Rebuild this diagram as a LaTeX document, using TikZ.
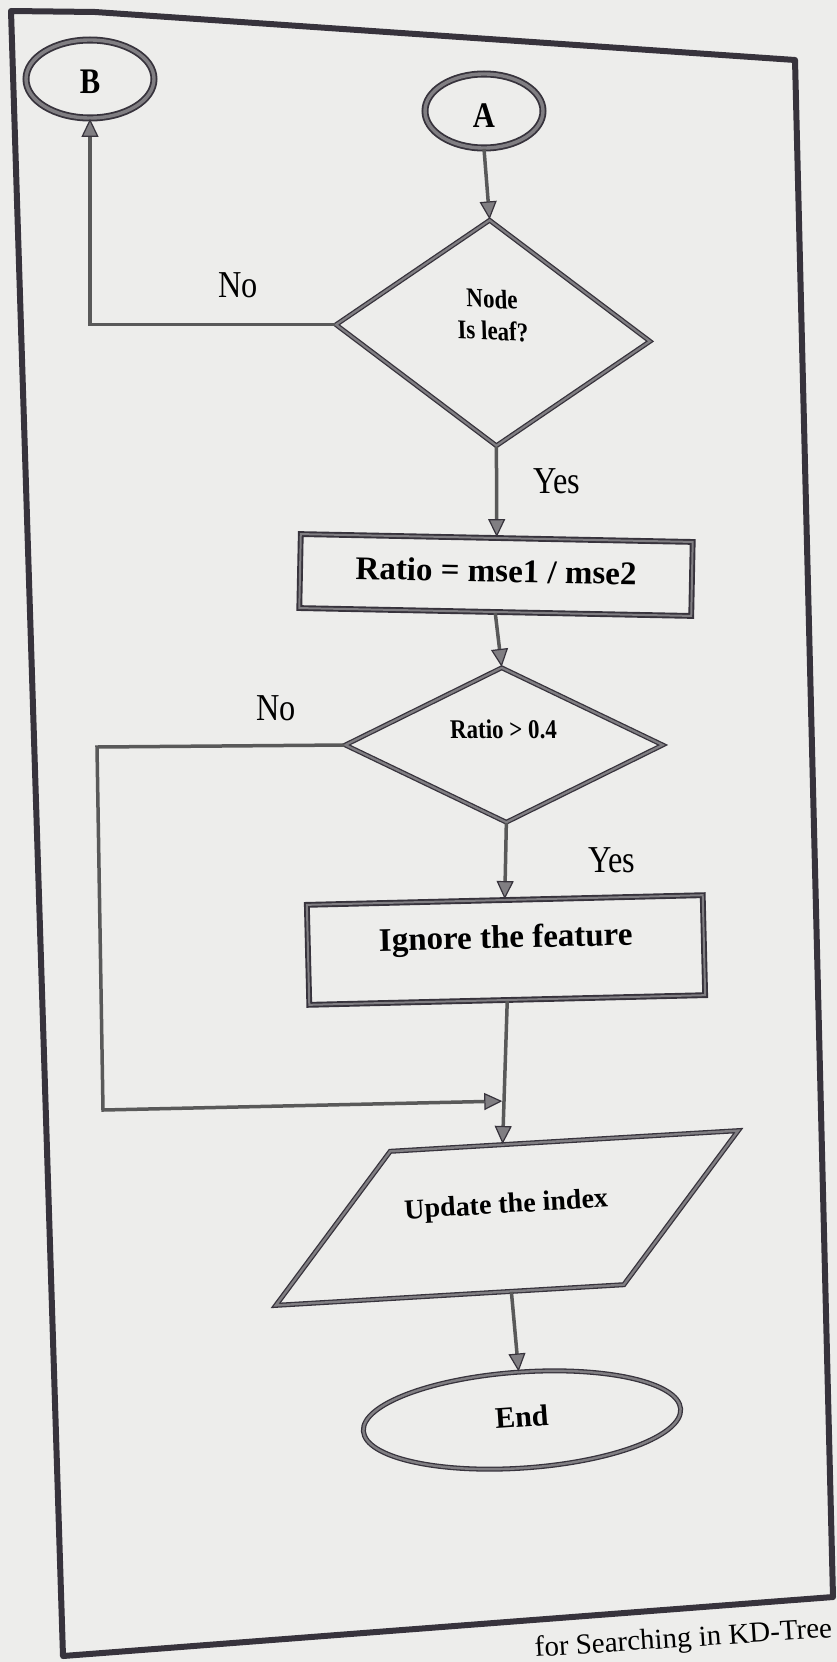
\documentclass[tikz,border=0pt]{standalone}
\usepackage{fontspec}
\setmainfont{Liberation Serif}
\newfontfamily\narrowserif[FakeStretch=0.85]{Liberation Serif}
\usetikzlibrary{shapes.geometric,arrows.meta,calc}

\definecolor{inkline}{RGB}{55,51,60}
\definecolor{inkgray}{RGB}{128,126,130}
\definecolor{paper}{RGB}{237,237,235}

\begin{document}
\begin{tikzpicture}[
    x=1pt, y=-1pt,
    connector/.style={ellipse, draw=inkline, line width=1.8pt, double=inkgray, double distance=3.4pt, inner sep=0pt, font=\narrowserif\fontsize{36}{42}\selectfont\bfseries},
    terminal/.style={ellipse, draw=inkline, line width=1.3pt, double=inkgray, double distance=2.4pt, inner sep=0pt, font=\fontsize{30}{36}\selectfont\bfseries},
    decision/.style={diamond, draw=inkline, line width=1.3pt, double=inkgray, double distance=2.2pt, inner sep=0pt, font=\narrowserif\fontsize{27}{32}\selectfont\bfseries},
    process/.style={rectangle, draw=inkline, line width=1.9pt, double=inkgray, double distance=2pt, inner sep=0pt, font=\fontsize{33}{40}\selectfont\bfseries},
    io/.style={trapezium, trapezium left angle=50, trapezium right angle=130, trapezium stretches body=true, draw=inkline, line width=1.3pt, double=inkgray, double distance=2.4pt, inner xsep=0pt, inner ysep=73.5pt, font=\fontsize{28}{34}\selectfont\bfseries},
    flow/.style={draw=black!65, line width=3.5pt},
    arrow/.style={flow, -{Triangle[width=17pt, length=18pt, color=inkline, fill=inkgray, line width=1.2pt]}},
    answer/.style={font=\narrowserif\fontsize{38}{44}\selectfont, anchor=base},
    caption/.style={font=\fontsize{29}{35}\selectfont, anchor=base east, rotate=3.8},
    pageframe/.style={draw=inkline, line width=6pt, line join=round}
]
% Page
\fill[paper] (0,0) rectangle (837,1662);
\useasboundingbox (0,0) rectangle (837,1662);
\draw[pageframe] (11,11) -- (95,12) -- (795,60) -- (833,1597) -- (63,1656) -- cycle;

% Connectors
\node[connector, minimum width=128pt, minimum height=78pt] (B) at (90,79) {\raisebox{-14pt}[0pt][0pt]{B}};
\node[connector, minimum width=118pt, minimum height=74pt] (A) at (484,111) {\raisebox{-16pt}[0pt][0pt]{A}};

% Decisions
\node[decision, minimum width=314pt, minimum height=226pt, xslant=-0.03, yslant=-0.053] (leaf) at (493,333)
    {\raisebox{-7pt}[0pt][0pt]{\begin{tabular}[b]{@{}c@{}}Node\\Is leaf?\end{tabular}}};
\node[decision, minimum width=318pt, minimum height=155pt, xslant=-0.03] (ratio4) at (504,745)
    {\raisebox{7pt}[0pt][0pt]{Ratio > 0.4}};

% Steps
\node[process, minimum width=392pt, minimum height=74pt, rotate=-1.15] (ratio) at (496,575)
    {\raisebox{-7pt}[0pt][0pt]{Ratio = mse1 / mse2}};
\node[process, minimum width=396pt, minimum height=100pt, rotate=1.4] (ignore) at (506,950)
    {\raisebox{2pt}[0pt][0pt]{Ignore the feature}};
\node[io, minimum width=472pt, rotate=3.4] (upd) at (507,1218)
    {\raisebox{5pt}[0pt][0pt]{Update the index}};
\node[terminal, minimum width=318pt, minimum height=96pt, rotate=4] (end) at (522,1420)
    {\raisebox{-7pt}[0pt][0pt]{End}};

% Answers
\node[answer] (noleaf) at (238,297) {No};
\node[answer] (yesleaf) at (557,493) {Yes};
\node[answer] (noratio) at (276,720) {No};
\node[answer] (yesratio) at (612,872) {Yes};

% Main flow
\draw[arrow] (A.south) -- (leaf.north);
\draw[arrow] (leaf.south) -- (ratio.north);
\draw[arrow] (ratio.south) -- (ratio4.north);
\draw[arrow] (ratio4.south) -- (ignore.north);
\draw[arrow] (ignore.south) -- (upd.north);
\draw[arrow] (upd.south) -- (end.north);

% No branches
\draw[arrow] (leaf.west) -| (B.south);
\coordinate (noa) at (97,747);
\coordinate (nob) at (103,1110);
\coordinate (merge) at ($(ignore.south)!0.7!(upd.north)$);
\draw[arrow, shorten >=1.75pt] (ratio4.west) -- (noa) -- (nob) -- (merge);

% Caption
\node[caption] (title) at (836,1637) {for Searching in KD-Tree};
\end{tikzpicture}
\end{document}
